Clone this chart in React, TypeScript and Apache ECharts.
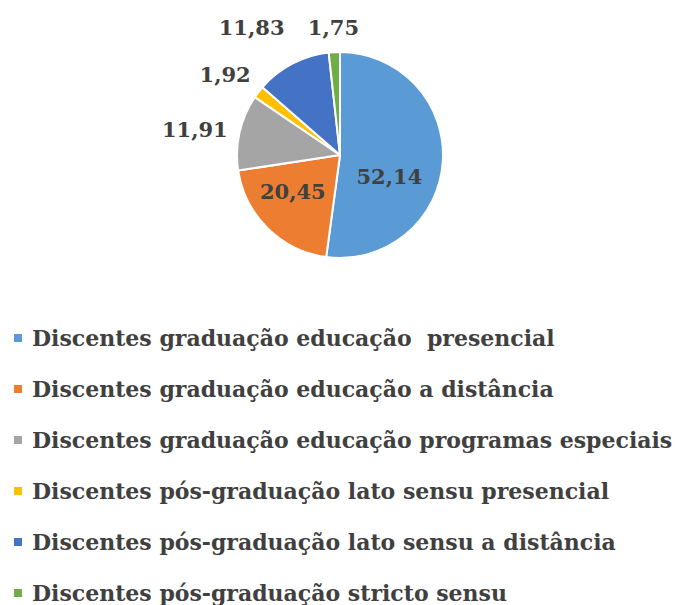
import React, { useEffect, useRef } from "react";
import * as echarts from "echarts";

const categories = [
  "Discentes graduação educação  presencial",
  "Discentes graduação educação a distância",
  "Discentes graduação educação programas especiais",
  "Discentes pós-graduação lato sensu presencial",
  "Discentes pós-graduação lato sensu a distância",
  "Discentes pós-graduação stricto sensu",
];
const values = [52.14, 20.45, 11.91, 1.92, 11.83, 1.75];
const colors = ["#5B9BD5", "#ED7D31", "#A5A5A5", "#FFC000", "#4472C4", "#70AD47"];
const insideLabels = [true, true, false, false, false, false];
const labelShift: [number, number][] = [
  [-5, 18],
  [-9, -2],
  [-1, -1],
  [2, -14],
  [0, -31],
  [30, -19],
];

const FONT = "'DejaVu Serif', 'Liberation Serif', serif";

export default function App() {
  const ref = useRef<HTMLDivElement>(null);
  useEffect(() => {
    if (!ref.current) return;
    const chart = echarts.init(ref.current, undefined, { renderer: "svg" });
    chart.setOption({
      animation: false,
      backgroundColor: "#ffffff",
      legend: {
        orient: "vertical",
        left: 12,
        top: 327,
        height: 320,
        padding: 0,
        itemWidth: 10,
        itemHeight: 10,
        itemGap: 29,
        icon: "rect",
        data: categories,
        textStyle: {
          fontFamily: FONT,
          fontWeight: "bold",
          fontSize: 22,
          lineHeight: 22,
          color: "#404040",
          padding: [0, 0, 0, 4],
        },
      },
      series: [
        {
          type: "pie",
          center: [340, 155],
          radius: [0, 103],
          startAngle: 90,
          clockwise: true,
          avoidLabelOverlap: false,
          itemStyle: { borderColor: "#ffffff", borderWidth: 2 },
          label: {
            show: true,
            position: "outside",
            formatter: (p: any) => p.value.toFixed(2).replace(".", ","),
            fontFamily: FONT,
            fontWeight: "bold",
            fontSize: 21,
            color: "#404040",
          },
          labelLine: { show: false, length: 6, length2: 0 },
          labelLayout: (p: any) => ({ dx: labelShift[p.dataIndex][0], dy: labelShift[p.dataIndex][1] }),
          data: categories.map((name, i) => ({
            name,
            value: values[i],
            itemStyle: { color: colors[i] },
            label: insideLabels[i] ? { position: "inside" } : undefined,
          })),
        },
      ],
    });
    return () => chart.dispose();
  }, []);
  return (
    <div
      ref={ref}
      style={{ position: "absolute", left: 0, top: 0, width: 686, height: 605, overflow: "hidden" }}
    />
  );
}
